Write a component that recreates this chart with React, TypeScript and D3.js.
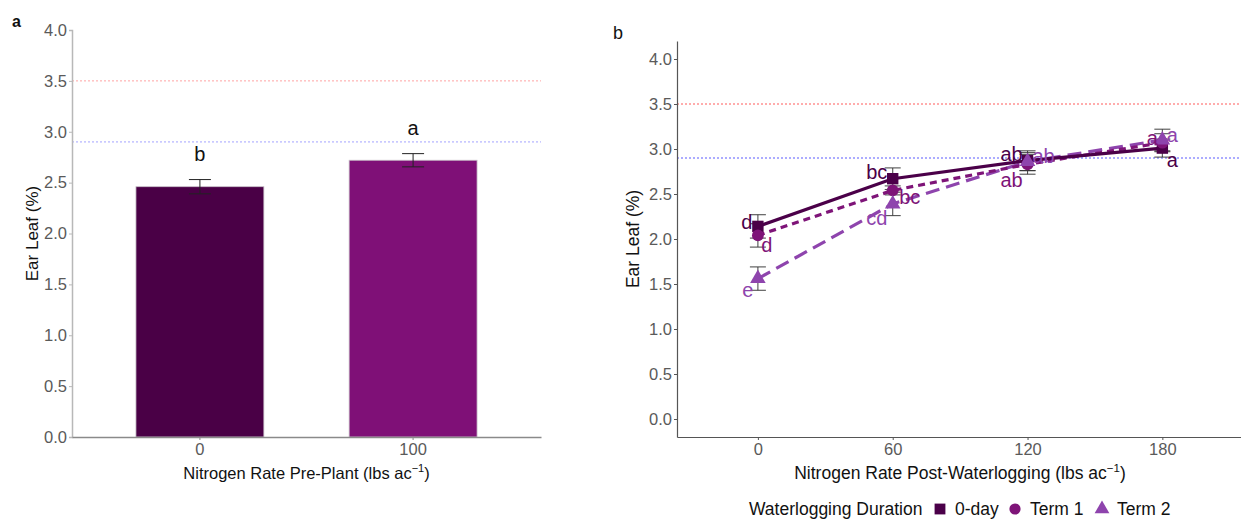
import React, { useEffect, useRef } from 'react';
import * as d3 from 'd3';

// Panel a: pre-plant nitrogen
const preRates = ['0', '100'];
const preMeans = [2.46, 2.72];
const preErr = [0.07, 0.065];
const preLetters = ['b', 'a'];
const preColors = ['#4a0046', '#7f1077'];

// Panel b: post-waterlogging nitrogen
const postRates = [0, 60, 120, 180];
const durations = ['0-day', 'Term 1', 'Term 2'];
const dayMeans = [2.14, 2.67, 2.87, 3.01];
const dayErr = [0.13, 0.12, 0.11, 0.1];
const term1Means = [2.04, 2.54, 2.83, 3.07];
const term1Err = [0.13, 0.05, 0.11, 0.1];
const term2Means = [1.56, 2.39, 2.86, 3.1];
const term2Err = [0.13, 0.13, 0.1, 0.12];
const dayLetters = ['d', 'bc', 'ab', 'a'];
const term1Letters = ['d', 'bc', 'ab', 'a'];
const term2Letters = ['e', 'cd', 'ab', 'a'];
const seriesColors = ['#4b0049', '#7e1478', '#8e44ad'];

const yTicks = [0, 0.5, 1, 1.5, 2, 2.5, 3, 3.5, 4];
const refLines = [
  { v: 3.5, color: '#ff3030' },
  { v: 2.9, color: '#3030ff' },
];

// label nudges (px) so the letters don't sit on the markers
const labelNudge = [
  [[-11, -4], [-16, -7], [-16, -7], [10, 12]],
  [[9, 10], [17, 7], [-16, 16], [-10, -5]],
  [[-10, 11], [-16, 14], [16, -6], [10, -5]],
];

const font = 'Liberation Sans, Arial, sans-serif';

const App = () => {
  const ref = useRef<SVGSVGElement>(null);

  useEffect(() => {
    const svg = d3.select(ref.current);
    svg.selectAll('*').remove();
    svg.style('font-family', font);

    // ---------- Panel a ----------
    const aL = 72, aR = 541, aT = 30, aB = 437;
    const xa = d3.scaleBand().domain(preRates).range([aL, aR]).paddingInner(0.4).paddingOuter(0.3);
    const ya = d3.scaleLinear().domain([0, 4]).range([aB, aT]);
    const ga = svg.append('g');

    refLines.forEach(r => {
      ga.append('line')
        .attr('x1', aL).attr('x2', aR)
        .attr('y1', ya(r.v)).attr('y2', ya(r.v))
        .attr('stroke', r.color).attr('stroke-opacity', 0.45)
        .attr('stroke-width', 1).attr('stroke-dasharray', '2,2');
    });

    ga.selectAll('.bar')
      .data(preRates)
      .enter().append('rect')
      .attr('x', d => xa(d)!)
      .attr('width', xa.bandwidth())
      .attr('y', (d, i) => ya(preMeans[i]))
      .attr('height', (d, i) => aB - ya(preMeans[i]))
      .attr('fill', (d, i) => preColors[i])
      .attr('stroke', '#c8c0c8').attr('stroke-width', 0.8);

    preRates.forEach((d, i) => {
      const cx = xa(d)! + xa.bandwidth() / 2;
      const lo = ya(preMeans[i] - preErr[i]);
      const hi = ya(preMeans[i] + preErr[i]);
      const g = ga.append('g').attr('stroke', '#222').attr('stroke-width', 1);
      g.append('line').attr('x1', cx).attr('x2', cx).attr('y1', lo).attr('y2', hi);
      g.append('line').attr('x1', cx - 11).attr('x2', cx + 11).attr('y1', lo).attr('y2', lo);
      g.append('line').attr('x1', cx - 11).attr('x2', cx + 11).attr('y1', hi).attr('y2', hi);
      ga.append('text')
        .attr('x', cx).attr('y', hi - 19)
        .attr('text-anchor', 'middle')
        .attr('font-size', 20)
        .attr('fill', '#111')
        .text(preLetters[i]);
    });

    const axA = ga.append('g').attr('transform', `translate(${aL},0)`)
      .call(d3.axisLeft(ya).tickValues(yTicks).tickFormat(d3.format('.1f')).tickSize(3).tickPadding(2));
    axA.select('.domain').attr('stroke', '#b8b8b8').attr('stroke-width', 1.5);
    axA.selectAll('.tick line').attr('stroke', '#b8b8b8');
    axA.selectAll('.tick text').attr('fill', '#5a5a5a').attr('font-size', 16.5).attr('font-family', font);

    const axAx = ga.append('g').attr('transform', `translate(0,${aB})`)
      .call(d3.axisBottom(xa).tickSize(3).tickPadding(3).tickSizeOuter(0));
    axAx.select('.domain').attr('stroke', '#8a8a8a').attr('stroke-width', 1.5);
    axAx.selectAll('.tick line').attr('stroke', '#8a8a8a');
    axAx.selectAll('.tick text').attr('fill', '#5a5a5a').attr('font-size', 16.5).attr('font-family', font);

    const ta = ga.append('text')
      .attr('x', (aL + aR) / 2).attr('y', 479)
      .attr('text-anchor', 'middle').attr('font-size', 16.5).attr('fill', '#111');
    ta.append('tspan').text('Nitrogen Rate Pre-Plant (lbs ac');
    ta.append('tspan').attr('dy', -7).attr('font-size', 11).text('\u22121');
    ta.append('tspan').attr('dy', 7).text(')');

    ga.append('text')
      .attr('transform', `translate(38,${(aT + aB) / 2}) rotate(-90)`)
      .attr('text-anchor', 'middle').attr('font-size', 17).attr('fill', '#111')
      .text('Ear Leaf (%)');

    ga.append('text').attr('x', 12).attr('y', 27).attr('font-size', 16)
      .attr('font-weight', 'bold').attr('fill', '#111').text('a');

    // ---------- Panel b ----------
    const bL = 677, bR = 1241, bT = 41, bB = 437;
    const xb = d3.scaleLinear().domain([-36, 215]).range([bL, bR]);
    const yb = d3.scaleLinear().domain([-0.2, 4.2]).range([bB, bT]);
    const gb = svg.append('g');

    refLines.forEach(r => {
      gb.append('line')
        .attr('x1', bL).attr('x2', bR)
        .attr('y1', yb(r.v)).attr('y2', yb(r.v))
        .attr('stroke', r.color).attr('stroke-opacity', 0.8)
        .attr('stroke-width', 1).attr('stroke-dasharray', '2,2');
    });

    const means = [dayMeans, term1Means, term2Means];
    const errs = [dayErr, term1Err, term2Err];
    const letters = [dayLetters, term1Letters, term2Letters];
    const dashes = [null, '7,5', '14,7'];

    const line = d3.line<number>()
      .x((d, i) => xb(postRates[i]))
      .y(d => yb(d));

    // error bars first
    means.forEach((m, s) => {
      m.forEach((v, i) => {
        const cx = xb(postRates[i]);
        const lo = yb(v - errs[s][i]);
        const hi = yb(v + errs[s][i]);
        const g = gb.append('g').attr('stroke', '#333').attr('stroke-width', 1.1).attr('stroke-opacity', 0.85);
        g.append('line').attr('x1', cx).attr('x2', cx).attr('y1', lo).attr('y2', hi);
        g.append('line').attr('x1', cx - 8).attr('x2', cx + 8).attr('y1', lo).attr('y2', lo);
        g.append('line').attr('x1', cx - 8).attr('x2', cx + 8).attr('y1', hi).attr('y2', hi);
      });
    });

    means.slice().reverse().forEach((m, r) => {
      const s = means.length - 1 - r;
      gb.append('path')
        .attr('d', line(m))
        .attr('fill', 'none')
        .attr('stroke', seriesColors[s])
        .attr('stroke-width', 3.2)
        .attr('stroke-dasharray', dashes[s]);
    });

    const symbols = [d3.symbolSquare, d3.symbolCircle, d3.symbolTriangle];
    const symSize = [130, 110, 105];
    means.forEach((m, s) => {
      gb.selectAll(`.pt${s}`)
        .data(m)
        .enter().append('path')
        .attr('transform', (d, i) => `translate(${xb(postRates[i])},${yb(d)})`)
        .attr('d', d3.symbol().type(symbols[s]).size(symSize[s])())
        .attr('fill', seriesColors[s]);
    });

    means.forEach((m, s) => {
      m.forEach((v, i) => {
        gb.append('text')
          .attr('x', xb(postRates[i]) + labelNudge[s][i][0])
          .attr('y', yb(v) + labelNudge[s][i][1])
          .attr('dy', '0.35em')
          .attr('text-anchor', 'middle')
          .attr('font-size', 20)
          .attr('fill', seriesColors[s])
          .text(letters[s][i]);
      });
    });

    const axB = gb.append('g').attr('transform', `translate(${bL},0)`)
      .call(d3.axisLeft(yb).tickValues(yTicks).tickFormat(d3.format('.1f')).tickSize(3).tickPadding(2).tickSizeOuter(0));
    axB.select('.domain').attr('stroke', '#555').attr('stroke-width', 1.2);
    axB.selectAll('.tick line').attr('stroke', '#555');
    axB.selectAll('.tick text').attr('fill', '#5a5a5a').attr('font-size', 16.5).attr('font-family', font);

    const axBx = gb.append('g').attr('transform', `translate(0,${bB})`)
      .call(d3.axisBottom(xb).tickValues(postRates).tickFormat(d3.format('d')).tickSize(3).tickPadding(3).tickSizeOuter(0));
    axBx.select('.domain').attr('stroke', '#555').attr('stroke-width', 1.2);
    axBx.selectAll('.tick line').attr('stroke', '#555');
    axBx.selectAll('.tick text').attr('fill', '#5a5a5a').attr('font-size', 16.5).attr('font-family', font);

    const tb = gb.append('text')
      .attr('x', 960).attr('y', 479)
      .attr('text-anchor', 'middle').attr('font-size', 17.5).attr('fill', '#111');
    tb.append('tspan').text('Nitrogen Rate Post-Waterlogging (lbs ac');
    tb.append('tspan').attr('dy', -7).attr('font-size', 11.5).text('\u22121');
    tb.append('tspan').attr('dy', 7).text(')');

    gb.append('text')
      .attr('transform', `translate(639,${(bT + bB) / 2}) rotate(-90)`)
      .attr('text-anchor', 'middle').attr('font-size', 17.5).attr('fill', '#111')
      .text('Ear Leaf (%)');

    gb.append('text').attr('x', 613).attr('y', 39).attr('font-size', 18).attr('fill', '#111').text('b');

    // legend
    const lg = gb.append('g').attr('transform', 'translate(749,509)');
    lg.append('text').attr('x', 0).attr('y', 6).attr('font-size', 17.5).attr('fill', '#111').text('Waterlogging Duration');
    const legX = [191, 266, 353];
    durations.forEach((d, s) => {
      lg.append('path')
        .attr('transform', `translate(${legX[s]},0)`)
        .attr('d', d3.symbol().type(symbols[s]).size(symSize[s] * 0.9)())
        .attr('fill', seriesColors[s]);
      lg.append('text').attr('x', legX[s] + 15).attr('y', 6)
        .attr('font-size', 17.5).attr('fill', '#111').text(d);
    });
  }, []);

  return (
    <svg ref={ref} width={1241} height={519}
      style={{ position: 'absolute', left: 0, top: 0, background: '#fff' }} />
  );
};

export default App;
